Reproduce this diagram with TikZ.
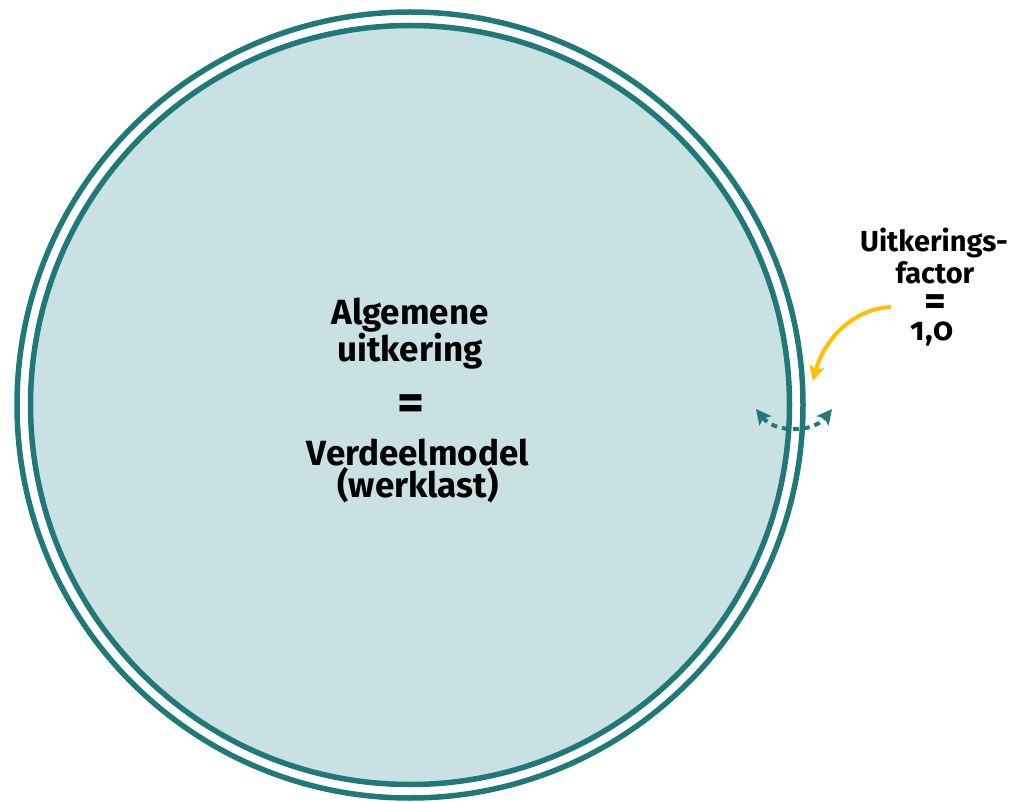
\documentclass[tikz,border=0pt]{standalone}
\usepackage{fontspec}
\setmainfont{Fira Sans}
\usetikzlibrary{arrows.meta}
\definecolor{teal1}{RGB}{32,120,120}
\definecolor{fillc}{RGB}{201,225,227}
\definecolor{gold}{RGB}{255,192,0}
\tikzset{
  ring/.style={circle, draw=teal1, line width=5.5pt, inner sep=0pt},
  bigtxt/.style={font=\bfseries\fontsize{35}{37}\selectfont, anchor=base, inner sep=0pt},
  smalltxt/.style={font=\bfseries\fontsize{29}{30}\selectfont, anchor=base, inner sep=0pt},
  bigeq/.style={font=\bfseries\fontsize{52}{52}\selectfont, anchor=base, inner sep=0pt},
  smalleq/.style={font=\bfseries\fontsize{42}{42}\selectfont, anchor=base, inner sep=0pt},
}
\begin{document}
\begin{tikzpicture}[x=1pt,y=-1pt]
\useasboundingbox (0,0) rectangle (1015,802);
\node[ring, minimum size=786pt] (outer) at (410,405) {};
\node[ring, fill=fillc, minimum size=759pt] (inner) at (410,405) {};
% centre text
\node[bigtxt] (t1) at (410,325) {Algemene};
\node[bigtxt] (t2) at (410,362) {uitkering};
\node[bigeq] (t3) at (411,420) {=};
\node[bigtxt] (t4) at (418,465) {Verdeelmodel};
\node[bigtxt] (t5) at (418,497) {(werklast)};
% right text
\node[smalltxt] (r1) at (934,252) {Uitkerings-};
\node[smalltxt] (r2) at (935,284) {factor};
\node[smalleq] (r3) at (935,316) {=};
\node[smalltxt, font=\bfseries\fontsize{32}{32}\selectfont] (r4) at (932,341) {\addfontfeatures{Numbers=OldStyle}1,0};
% arrows
\coordinate (ya) at (891,307);
\coordinate (yb) at (813,381);
\draw[gold, line width=4pt, -{Stealth[length=15pt,width=15pt,inset=3pt]}]
  (ya) .. controls (850,309) and (823,343) .. (yb);
\coordinate (da) at (756,409);
\coordinate (db) at (832,409);
\draw[teal1, line width=4pt, dash pattern=on 6pt off 5pt,
  {Stealth[length=15pt,width=15pt,inset=3pt]}-{Stealth[length=15pt,width=15pt,inset=3pt]}]
  (da) .. controls (775,433) and (813,433) .. (db);
\end{tikzpicture}
\end{document}
